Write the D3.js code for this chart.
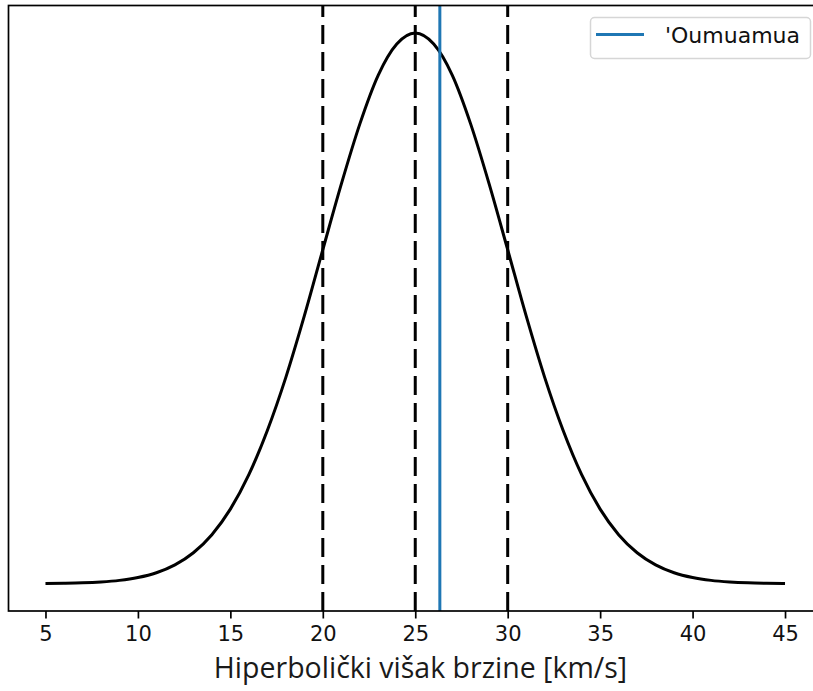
<!DOCTYPE html>
<html>
<head>
<meta charset="utf-8">
<script src="https://cdn.jsdelivr.net/npm/d3@7"></script>
<style>
  html, body { margin: 0; padding: 0; background: #fff; }
  svg { display: block; }
</style>
</head>
<body>
<div id="container"></div>
<script>
// speed values (km/s) and the curve heights (density)
const speeds = [5, 6, 7, 8, 9, 10, 11, 12, 13, 14, 15, 16, 17, 18, 19, 20, 21, 22, 23, 24, 25,
                26, 27, 28, 29, 30, 31, 32, 33, 34, 35, 36, 37, 38, 39, 40, 41, 42, 43, 44, 45];
const density = [0.00003, 0.00006, 0.00012, 0.00025, 0.00048, 0.00089, 0.00158, 0.00272, 0.00448, 0.0071,
                 0.0108, 0.0158, 0.0222, 0.0299, 0.0388, 0.0484, 0.0579, 0.0666, 0.0737, 0.0782,
                 0.0798,
                 0.0782, 0.0737, 0.0666, 0.0579, 0.0484, 0.0388, 0.0299, 0.0222, 0.0158, 0.0108,
                 0.0071, 0.00448, 0.00272, 0.00158, 0.00089, 0.00048, 0.00025, 0.00012, 0.00006, 0.00003];
const dashedLines = [20, 25, 30];   // mean and +-1 sigma
const oumuamua = 26.33;
const xTicks = [5, 10, 15, 20, 25, 30, 35, 40, 45];
const xLabel = "Hiperbolički višak brzine [km/s]";
const legendLabel = "'Oumuamua";

const w = 813;
const h = 691;
const plotL = 8.5, plotR = 822, plotT = 5.5, plotB = 611;

const svg = d3.select("#container")
    .append("svg")
    .attr("width", w)
    .attr("height", h);

// matplotlib style 5% margins
const xExt = d3.extent(speeds);
const xPad = (xExt[1] - xExt[0]) * 0.05;
const x = d3.scaleLinear()
    .domain([xExt[0] - xPad, xExt[1] + xPad])
    .range([plotL, plotR]);

const yExt = d3.extent(density);
const yPad = (yExt[1] - yExt[0]) * 0.05;
const y = d3.scaleLinear()
    .domain([yExt[0] - yPad, yExt[1] + yPad])
    .range([plotB, plotT]);

const pts = speeds.map((s, i) => [s, density[i]]);

const line = d3.line()
    .x(d => x(d[0]))
    .y(d => y(d[1]))
    .curve(d3.curveMonotoneX);

svg.append("path")
    .datum(pts)
    .attr("d", line)
    .attr("fill", "none")
    .attr("stroke", "#000")
    .attr("stroke-width", 3)
    .attr("stroke-linejoin", "round");

svg.selectAll(".vdash")
    .data(dashedLines)
    .enter().append("line")
    .attr("class", "vdash")
    .attr("x1", d => x(d))
    .attr("x2", d => x(d))
    .attr("y1", plotB)
    .attr("y2", plotT)
    .attr("stroke", "#000")
    .attr("stroke-width", 3)
    .attr("stroke-dasharray", "19,8");

svg.append("line")
    .attr("x1", x(oumuamua))
    .attr("x2", x(oumuamua))
    .attr("y1", plotB)
    .attr("y2", plotT)
    .attr("stroke", "#1f77b4")
    .attr("stroke-width", 3);

// x axis
const xAxis = d3.axisBottom(x)
    .tickValues(xTicks)
    .tickSize(7.5)
    .tickPadding(8)
    .tickFormat(d3.format("d"));

const gx = svg.append("g")
    .attr("transform", `translate(0,${plotB})`)
    .call(xAxis);
gx.select(".domain").remove();
gx.selectAll(".tick line").attr("stroke", "#000").attr("stroke-width", 1.7);
gx.selectAll(".tick text")
    .attr("fill", "#111")
    .style("font-family", "'DejaVu Sans', sans-serif")
    .style("font-size", "21px");

// frame
svg.append("rect")
    .attr("x", plotL)
    .attr("y", plotT)
    .attr("width", plotR - plotL)
    .attr("height", plotB - plotT)
    .attr("fill", "none")
    .attr("stroke", "#000")
    .attr("stroke-width", 1.7);

svg.append("text")
    .attr("x", 420.5)
    .attr("y", 678)
    .attr("text-anchor", "middle")
    .style("font-family", "'Open Sans', sans-serif")
    .style("font-size", "28.5px")
    .attr("fill", "#1a1a1a")
    .text(xLabel);

// legend
const lg = svg.append("g");
lg.append("rect")
    .attr("x", 590.5)
    .attr("y", 17.5)
    .attr("width", 220)
    .attr("height", 41)
    .attr("rx", 4)
    .attr("fill", "#fff")
    .attr("fill-opacity", 0.8)
    .attr("stroke", "#d6d6d6")
    .attr("stroke-width", 1.5);
lg.append("line")
    .attr("x1", 596)
    .attr("x2", 644)
    .attr("y1", 34.5)
    .attr("y2", 34.5)
    .attr("stroke", "#1f77b4")
    .attr("stroke-width", 3);
lg.append("text")
    .attr("x", 665)
    .attr("y", 43)
    .style("font-family", "'DejaVu Sans', sans-serif")
    .style("font-size", "22px")
    .attr("fill", "#111")
    .text(legendLabel);
</script>
</body>
</html>
